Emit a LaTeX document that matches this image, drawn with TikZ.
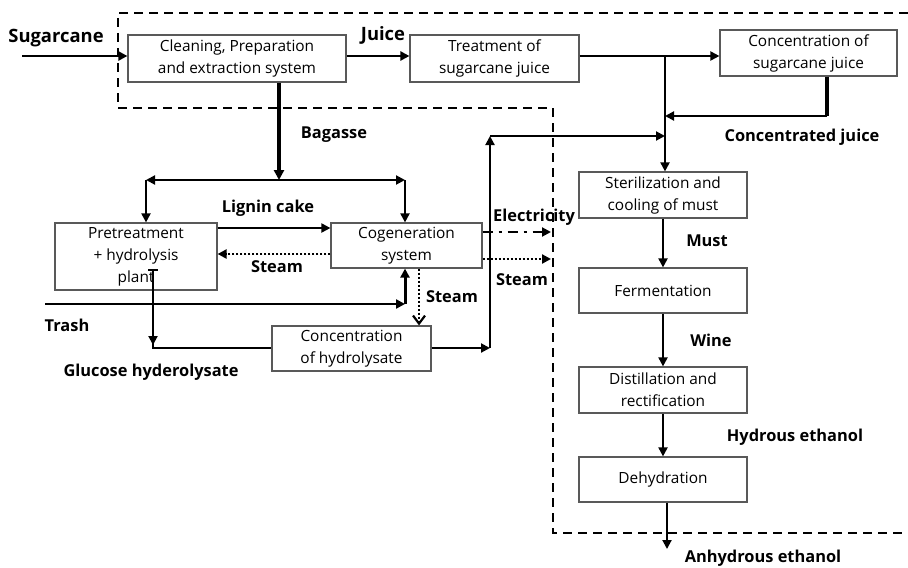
\documentclass[tikz,border=0pt]{standalone}
\usepackage{fontspec}
\setmainfont{Open Sans}
\usetikzlibrary{arrows.meta}
\begin{document}
\begin{tikzpicture}[x=0.5pt,y=-0.5pt,
  box/.style={draw=black!65,line width=0.6pt,inner sep=0pt,align=center,font=\fontsize{7.7}{11}\selectfont},
  lbl/.style={font=\fontsize{8.2}{10}\selectfont\bfseries,inner sep=0pt},
  biglbl/.style={font=\fontsize{9.2}{11}\selectfont\bfseries,inner sep=0pt},
  tip/.style={-{Triangle[length=4.5pt,width=4.5pt]}},
  flow/.style={line width=1pt,tip},
  heavy/.style={line width=1.7pt,-{Triangle[length=5pt,width=5pt]}},
  dotline/.style={line width=1.1pt,dash pattern=on 1.2pt off 0.8pt,tip},
  boundary/.style={line width=1pt,dash pattern=on 4.5pt off 3pt}]
\useasboundingbox (0,0) rectangle (908,567);
% boundary
\draw[boundary] (908,13) -- (118,13) -- (118,108) -- (553,108) -- (553,533) -- (908,533);
% boxes
\node[box,minimum width=109pt,minimum height=23.5pt] (clean) at (237,58.5) {Cleaning, Preparation\\and extraction system};
\node[box,minimum width=84.5pt,minimum height=23.5pt] (treat) at (494.5,58.5) {Treatment of\\sugarcane juice};
\node[box,minimum width=88.5pt,minimum height=23pt] (concj) at (808.5,53) {Concentration of\\sugarcane juice};
\node[box,minimum width=84pt,minimum height=23pt] (steril) at (663,195) {Sterilization and\\cooling of must};
\node[box,minimum width=84pt,minimum height=22.5pt] (ferm) at (663,290.5) {Fermentation};
\node[box,minimum width=84pt,minimum height=23pt] (dist) at (663,390) {Distillation and\\rectification};
\node[box,minimum width=84pt,minimum height=22.5pt] (dehyd) at (663,479.5) {Dehydration};
\node[box,minimum width=81pt,minimum height=33.5pt] (pretr) at (136,256.5) {Pretreatment\\+ hydrolysis\\plant};
\node[box,minimum width=75.5pt,minimum height=22.5pt] (cogen) at (406.5,245.5) {Cogeneration\\system};
\node[box,minimum width=79.5pt,minimum height=22.5pt] (conch) at (351.5,348.5) {Concentration\\of hydrolysate};
% coordinates
\coordinate (sin) at (22,56);
\coordinate (jx) at (665,56);
\coordinate (cjc) at (827,116);
\coordinate (bag) at (279,180);
\coordinate (bl) at (146,180);
\coordinate (br) at (405,180);
\coordinate (tin) at (45,304);
\coordinate (tc) at (405,304);
\coordinate (gt) at (153,270);
\coordinate (gb) at (153,348);
\coordinate (hr) at (490,348);
\coordinate (ht) at (490,136);
\coordinate (hm) at (665,136);
\coordinate (el) at (551,232);
\coordinate (sr) at (551,259);
\coordinate (out) at (667,549);
% connectors
\draw[line width=1.2pt,tip] (sin) -- (clean.west |- sin);
\draw[line width=1.2pt,tip] (clean.east |- sin) -- (treat.west |- sin);
\draw[flow] (treat.east |- sin) -- (concj.west |- sin);
\draw[line width=1pt] (jx) -- (hm);
\draw[flow] (hm) -- (steril.north -| jx);
\draw[line width=2pt] (concj.south -| cjc) -- (cjc);
\draw[flow] (cjc) -- (cjc -| jx);
\draw[heavy] (clean.south -| bag) -- (bag);
\draw[flow,{Triangle[length=4.5pt,width=4.5pt]}-{Triangle[length=4.5pt,width=4.5pt]}] (bl) -- (br);
\draw[flow] (bl) -- (pretr.north -| bl);
\draw[flow] (br) -- (cogen.north -| br);
\draw[flow] (pretr.east |- 0,228) -- (cogen.west |- 0,228);
\draw[dotline] (cogen.west |- 0,254) -- (pretr.east |- 0,254);
\draw[line width=1.3pt,tip] (tin) -- (tc);
\draw[line width=1.5pt,tip] (tc) -- (cogen.south -| tc);
\draw[line width=1.1pt,dash pattern=on 1.2pt off 0.8pt,-{Straight Barb[length=4pt,width=6pt]}] (cogen.south -| 419,0) -- (conch.north -| 419,0);
\draw[line width=0.8pt] (gt) -- (gb) -- (conch.west |- gb);
\draw[line width=0.8pt] (148,270) -- (158,270);
\draw[flow] (gt) -- (153,345);
\draw[flow] (conch.east |- hr) -- (hr);
\draw[flow] (hr) -- (ht);
\draw[flow] (ht) -- (hm);
\draw[line width=1pt,dash pattern=on 5pt off 3pt on 1.5pt off 3pt,tip] (cogen.east |- el) -- (el);
\draw[dotline] (cogen.east |- sr) -- (sr);
\draw[flow] (steril) -- (ferm);
\draw[flow] (ferm) -- (dist);
\draw[flow] (dist) -- (dehyd);
\draw[flow] (dehyd.south -| out) -- (out);
% labels
\node[biglbl] (l1) at (56,38) {Sugarcane};
\node[biglbl] (l2) at (383,35) {Juice};
\node[lbl] (l3) at (334,135) {Bagasse};
\node[lbl] (l4) at (802,137) {Concentrated juice};
\node[lbl] (l5) at (268,208) {Lignin cake};
\node[lbl] (l6) at (277,267) {Steam};
\node[lbl] (l7) at (67,325) {Trash};
\node[lbl] (l8) at (452,297) {Steam};
\node[lbl] (l9) at (151,372) {Glucose hyderolysate};
\node[lbl] (l10) at (534,217) {Electricity};
\node[lbl] (l11) at (522,280) {Steam};
\node[lbl] (l12) at (707,241) {Must};
\node[lbl] (l13) at (711,340) {Wine};
\node[lbl] (l14) at (795,437) {Hydrous ethanol};
\node[lbl] (l15) at (763,558) {Anhydrous ethanol};
\end{tikzpicture}
\end{document}
